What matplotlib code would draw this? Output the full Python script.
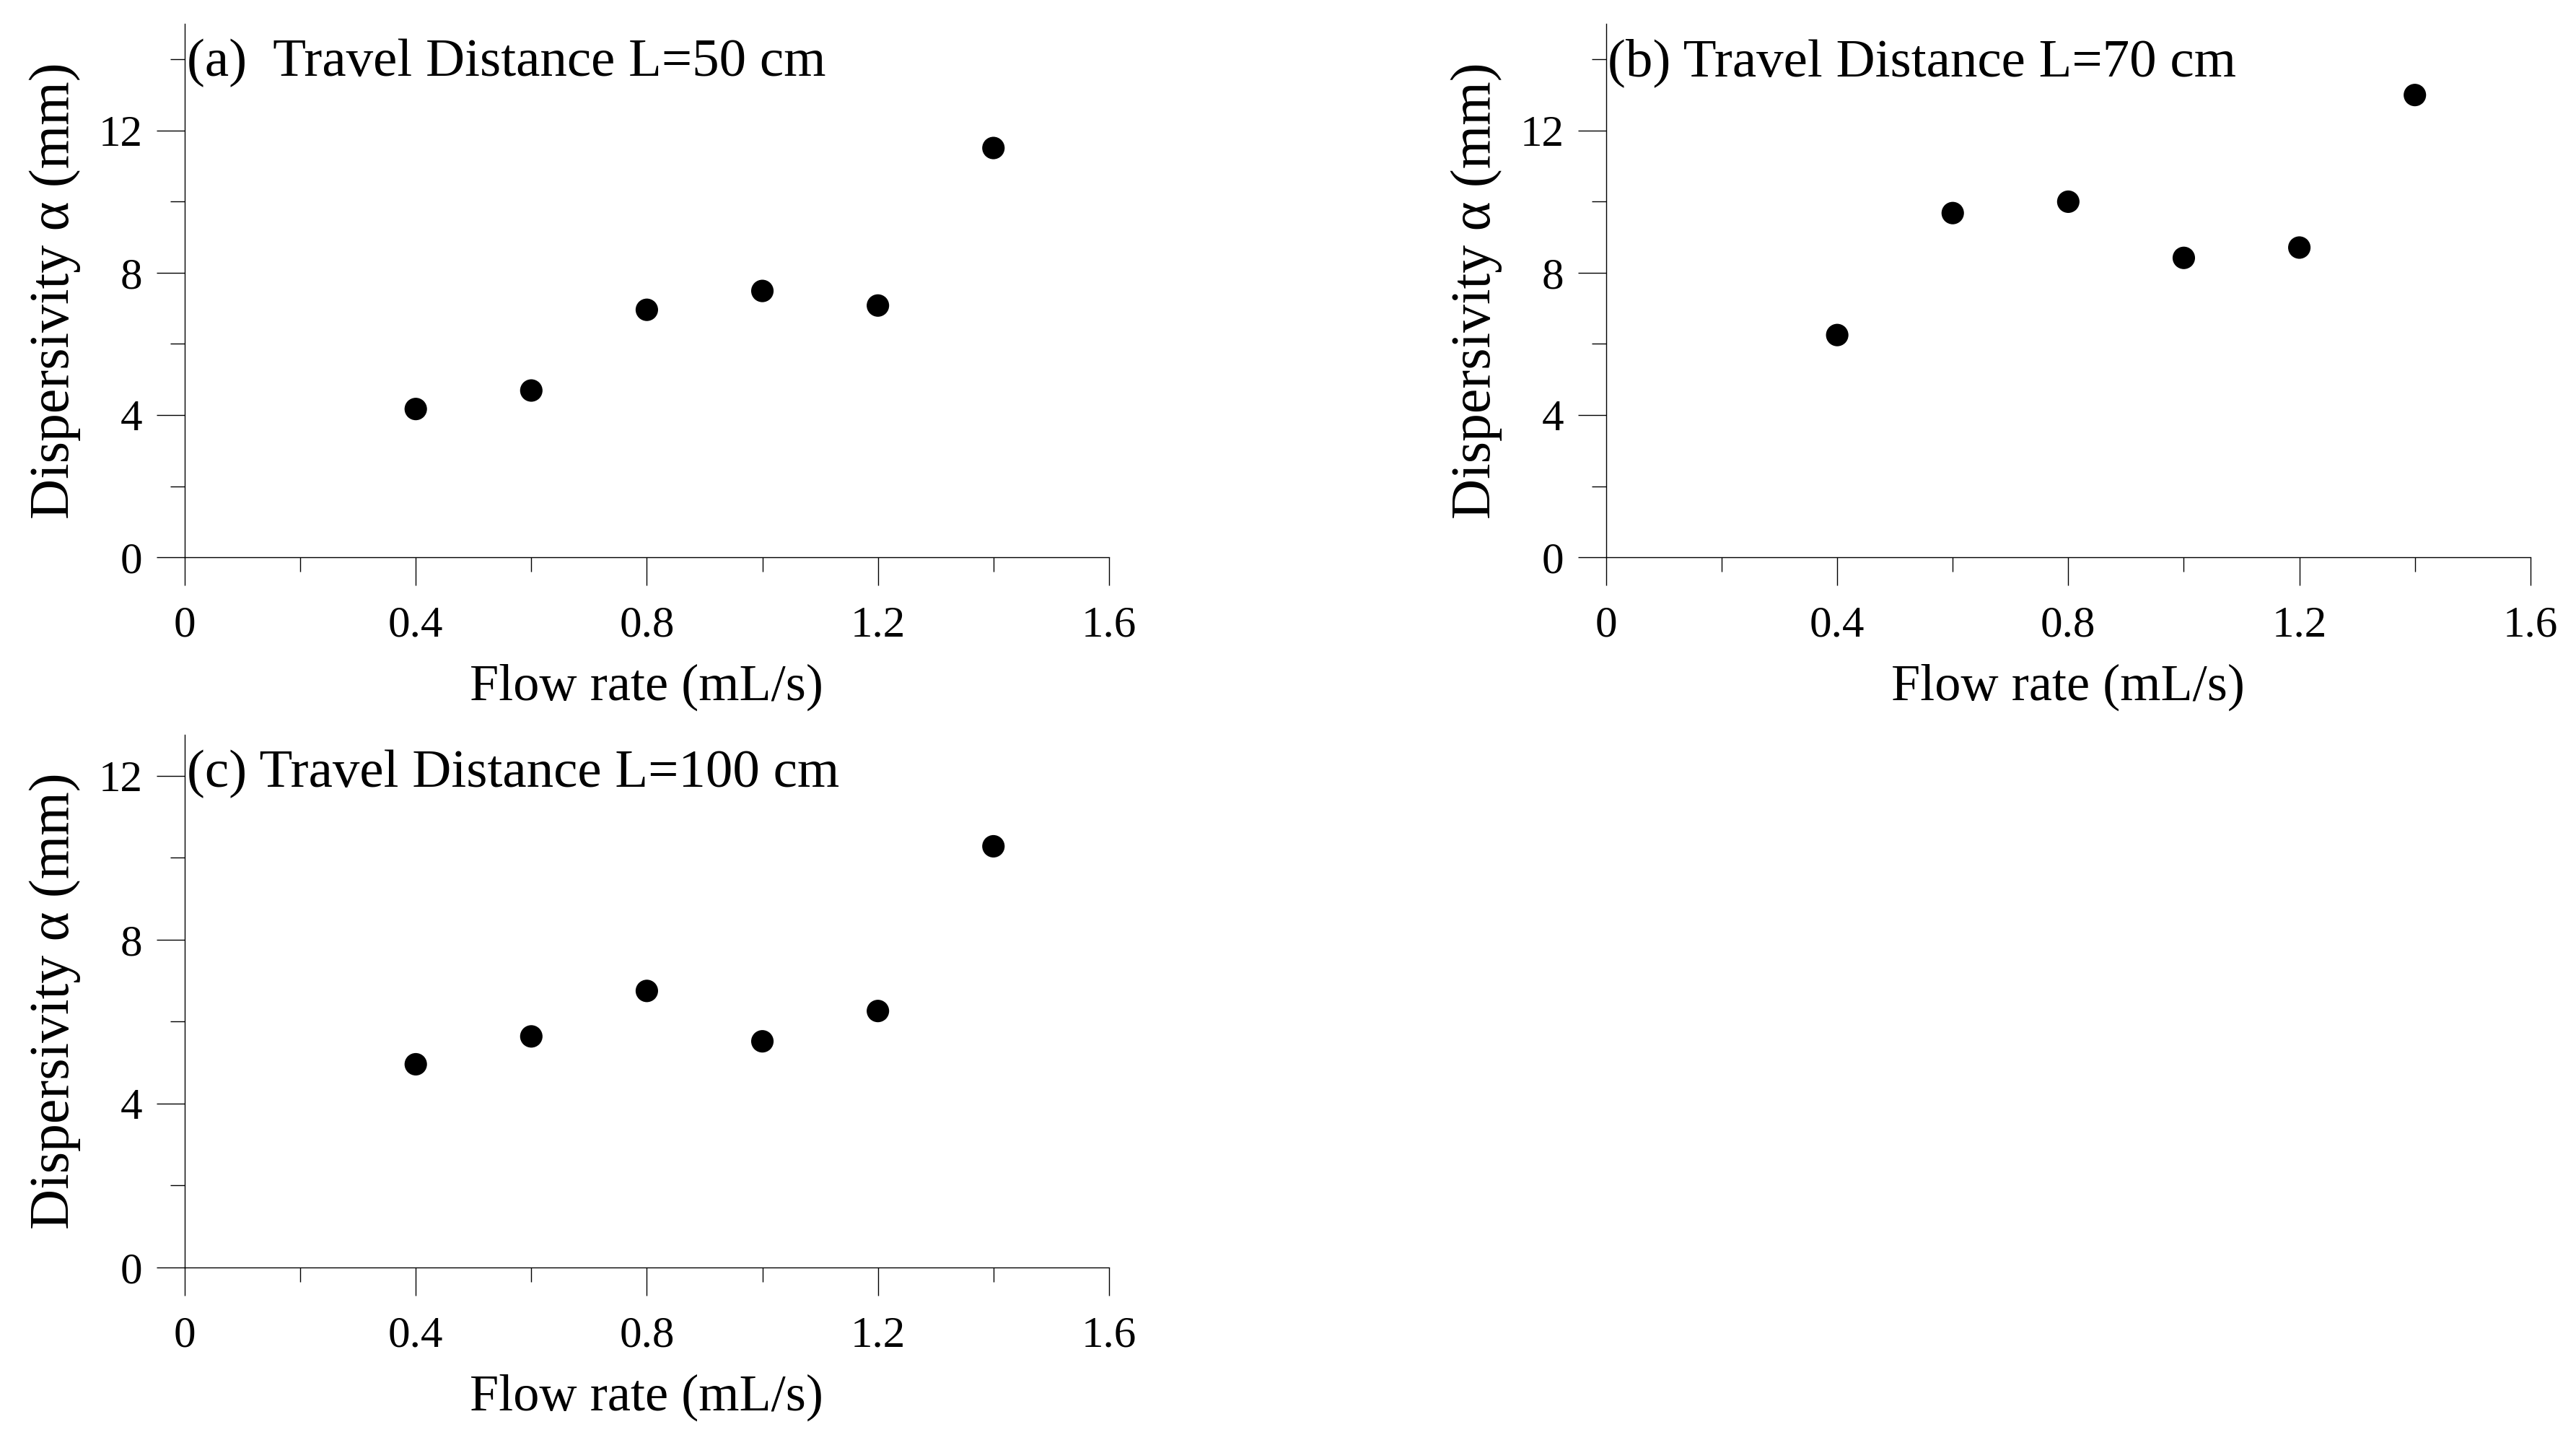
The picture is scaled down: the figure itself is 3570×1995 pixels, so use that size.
import matplotlib
matplotlib.use("Agg")
import matplotlib.pyplot as plt
from matplotlib.ticker import MultipleLocator, FuncFormatter

plt.rcParams['font.family'] = ['Liberation Serif', 'DejaVu Serif']

# data
flow_rate = [0.4, 0.6, 0.8, 1.0, 1.2, 1.4]
disp_50cm = [4.17, 4.69, 6.96, 7.49, 7.08, 11.51]
disp_70cm = [6.25, 9.68, 10.0, 8.42, 8.71, 13.0]
disp_100cm = [4.96, 5.64, 6.75, 5.52, 6.26, 10.28]

panel_titles = ['(a)  Travel Distance L=50 cm',
                '(b) Travel Distance L=70 cm',
                '(c) Travel Distance L=100 cm']
y_tops = [15, 15, 13]

X_LABEL = 'Flow rate (mL/s)'
Y_LABEL = 'Dispersivity \u03b1 (mm)'

fig = plt.figure(figsize=(17.85, 9.975), dpi=200)

# axes boxes in figure fractions
boxes = [[0.0717, 0.6130, 0.3588, 0.3704],
         [0.6235, 0.6130, 0.3588, 0.3704],
         [0.0717, 0.1198, 0.3588, 0.3699]]
series = [disp_50cm, disp_70cm, disp_100cm]


def tick_fmt(v, pos):
    return f'{v:g}'


for box, ys, title, ytop in zip(boxes, series, panel_titles, y_tops):
    ax = fig.add_axes(box)
    ax.scatter(flow_rate, ys, s=11.2 ** 2, color='black', edgecolors='none',
               zorder=3, clip_on=False)

    ax.set_xlim(0, 1.6)
    ax.set_ylim(0, ytop)

    ax.spines['top'].set_visible(False)
    ax.spines['right'].set_visible(False)
    for side in ['left', 'bottom']:
        ax.spines[side].set_linewidth(0.5)

    ax.xaxis.set_major_locator(MultipleLocator(0.4))
    ax.xaxis.set_minor_locator(MultipleLocator(0.2))
    ax.yaxis.set_major_locator(MultipleLocator(4))
    ax.yaxis.set_minor_locator(MultipleLocator(2))
    ax.xaxis.set_major_formatter(FuncFormatter(tick_fmt))
    ax.yaxis.set_major_formatter(FuncFormatter(tick_fmt))

    ax.tick_params(which='major', direction='out', length=14, width=0.5,
                   labelsize=22)
    ax.tick_params(which='minor', direction='out', length=7.2, width=0.5)
    ax.tick_params(axis='x', which='major', pad=10)
    ax.tick_params(axis='y', which='major', pad=7)

    ax.set_xlabel(X_LABEL, fontsize=26)
    ax.set_ylabel(Y_LABEL, fontsize=28)
    ax.xaxis.set_label_coords(0.5, -0.268)
    ax.xaxis.label.set_verticalalignment('baseline')
    ax.yaxis.set_label_coords(-0.1257, 0.5)
    ax.yaxis.label.set_verticalalignment('baseline')

    ax.text(0.002, 0.902, title, transform=ax.transAxes, fontsize=27,
            ha='left', va='baseline')

fig.savefig('out.png', dpi=200)
